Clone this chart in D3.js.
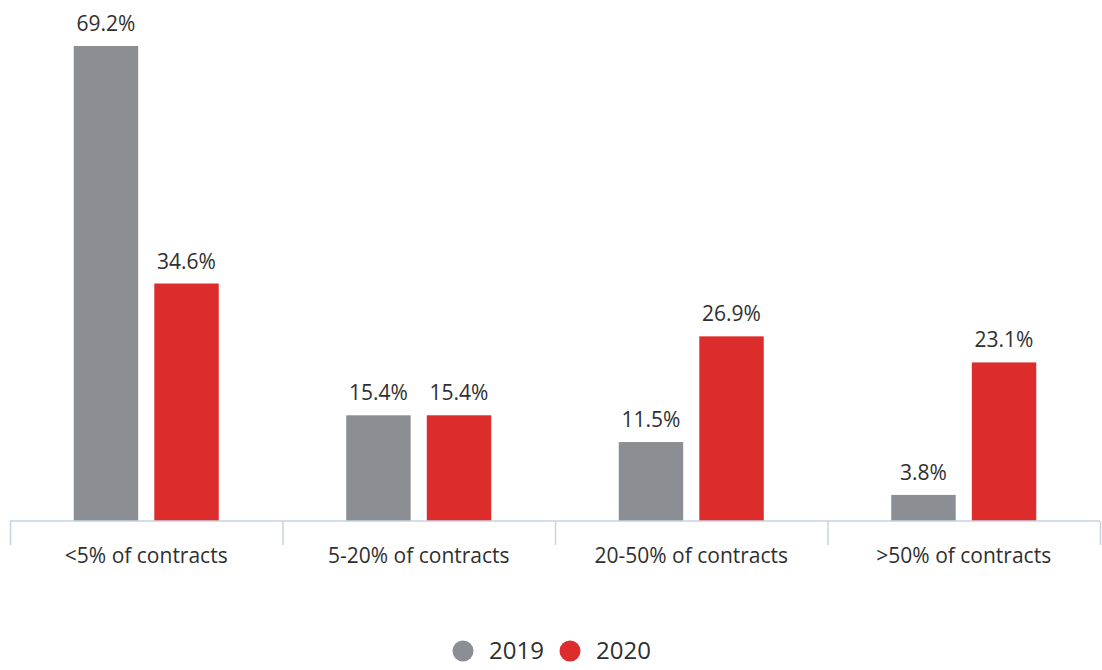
<!DOCTYPE html>
<html>
<head>
<meta charset="utf-8">
<script src="https://cdn.jsdelivr.net/npm/d3@7"></script>
<style>
  body { margin: 0; background: #fff; }
  text { font-family: "Open Sans", "DejaVu Sans", sans-serif; fill: #2f2f2f; }
</style>
</head>
<body>
<div id="chart"></div>
<script>
// chart data
const categories = ["<5% of contracts", "5-20% of contracts", "20-50% of contracts", ">50% of contracts"];
const seriesNames = ["2019", "2020"];
const values2019 = [69.2, 15.4, 11.5, 3.8];
const values2020 = [34.6, 15.4, 26.9, 23.1];
const colors = ["#8b8f94", "#dc2c2c"];

const width = 1102, height = 670;
const margin = { top: 46, left: 10, right: 2, bottom: 149 };
const baseY = height - margin.bottom; // axis line

const svg = d3.select("#chart").append("svg")
    .attr("width", width)
    .attr("height", height);

const x0 = d3.scaleBand()
    .domain(categories)
    .range([margin.left, width - margin.right])
    .paddingInner(0)
    .paddingOuter(0);

const groupW = 145;
const x1 = d3.scaleBand()
    .domain(seriesNames)
    .range([0, groupW])
    .paddingInner(0.2);

const y = d3.scaleLinear()
    .domain([0, 69.2])
    .range([baseY, margin.top]);

const rows = categories.map((c, i) => ({
    cat: c,
    vals: [values2019[i], values2020[i]]
}));

const groups = svg.selectAll(".grp")
    .data(rows)
    .enter()
    .append("g")
    .attr("class", "grp")
    .attr("transform", d => `translate(${x0(d.cat) + (x0.bandwidth() - groupW) / 2},0)`);

groups.selectAll("rect")
    .data(d => d.vals.map((v, j) => ({ key: seriesNames[j], v: v, j: j })))
    .enter()
    .append("rect")
    .attr("x", d => x1(d.key))
    .attr("y", d => y(d.v))
    .attr("width", x1.bandwidth())
    .attr("height", d => baseY - y(d.v))
    .attr("fill", d => colors[d.j]);

groups.selectAll(".val")
    .data(d => d.vals.map((v, j) => ({ key: seriesNames[j], v: v })))
    .enter()
    .append("text")
    .attr("class", "val")
    .attr("x", d => x1(d.key) + x1.bandwidth() / 2)
    .attr("y", d => y(d.v) - 15)
    .attr("text-anchor", "middle")
    .style("font-size", "21px")
    .text(d => d.v.toFixed(1) + "%");

// category axis: boundaries as ticks
const edges = d3.scaleLinear()
    .domain([0, categories.length])
    .range(x0.range());

const axis = svg.append("g")
    .attr("transform", `translate(0,${baseY})`)
    .call(d3.axisBottom(edges).ticks(categories.length).tickSize(24).tickFormat(""));
axis.selectAll("line").attr("stroke", "#c8d2df").attr("stroke-width", 1.5);
axis.select(".domain").attr("stroke", "#c8d2df").attr("stroke-width", 1.5).attr("d", `M${x0.range()[0]},0H${x0.range()[1]}`);

svg.selectAll(".cat")
    .data(categories)
    .enter()
    .append("text")
    .attr("class", "cat")
    .attr("x", d => x0(d) + x0.bandwidth() / 2)
    .attr("y", baseY + 42)
    .attr("text-anchor", "middle")
    .style("font-size", "21px")
    .text(d => d);

// legend
const legend = svg.append("g").attr("transform", "translate(463,651)");
const lg = legend.selectAll("g")
    .data(seriesNames)
    .enter()
    .append("g")
    .attr("transform", (d, i) => `translate(${i * 107},0)`);
lg.append("circle").attr("r", 10.5).attr("fill", (d, i) => colors[i]);
lg.append("text")
    .attr("x", 26)
    .attr("dy", "0.35em")
    .style("font-size", "24px")
    .text(d => d);
</script>
</body>
</html>
